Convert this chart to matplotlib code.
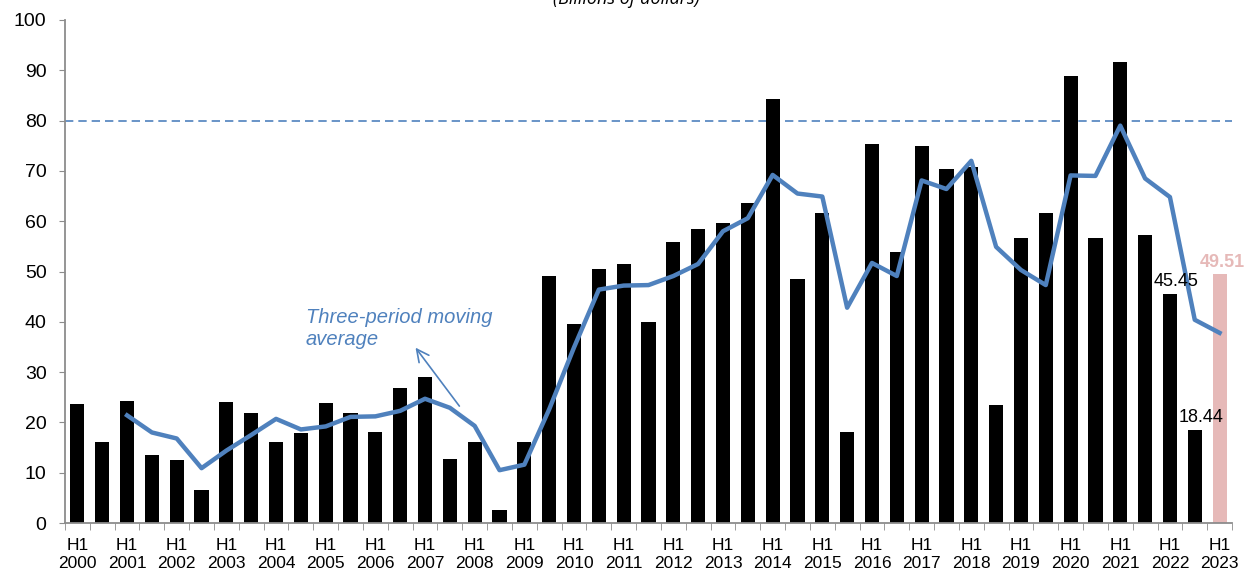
import numpy as np
import matplotlib
matplotlib.use("Agg")
import matplotlib.pyplot as plt

plt.rcParams['font.family'] = ['Liberation Sans', 'DejaVu Sans']

# half-year values, H1 2000 .. H1 2023 (billions of dollars)
years = list(range(2000, 2024))
flows = [23.7, 16.2, 24.3, 13.6, 12.5, 6.6, 24.1, 21.8, 16.1, 17.8,
         23.8, 21.8, 18.1, 26.9, 29.1, 12.8, 16.1, 2.6, 16.1, 49.2,
         39.5, 50.5, 51.5, 40.0, 55.9, 58.5, 59.6, 63.6, 84.3, 48.6,
         61.7, 18.0, 75.4, 53.8, 75.0, 70.4, 70.7, 23.5, 56.7, 61.7,
         88.8, 56.6, 91.7, 57.3, 45.45, 18.44, 49.51]

# three-period moving average (starts at H1 2001)
moving_avg = [21.4, 18.0, 16.8, 10.9, 14.4, 17.5, 20.7, 18.6, 19.2,
              21.1, 21.2, 22.3, 24.7, 22.9, 19.3, 10.5, 11.6, 22.6,
              34.9, 46.4, 47.2, 47.3, 49.1, 51.5, 58.0, 60.6, 69.2,
              65.5, 64.9, 42.8, 51.7, 49.1, 68.1, 66.4, 72.0, 54.9,
              50.3, 47.3, 69.1, 69.0, 79.0, 68.5, 64.8, 40.4, 37.8]

labelled = {44: "45.45", 45: "18.44"}
blue = "#4F81BD"
pink = "#E6B9B8"
grey = "#8C8C8C"

n = len(flows)
x = np.arange(n)
colors = ["black"] * (n - 1) + [pink]

fig = plt.figure(figsize=(12.51, 5.78), dpi=100)
ax = fig.add_axes([65 / 1251, 55 / 578, (1232 - 65) / 1251, (523 - 20) / 578])

ax.bar(x, flows, width=0.57, color=colors, zorder=2)
ax.plot(x[2:], moving_avg, color=blue, lw=3.2, zorder=3, solid_joinstyle='round')
ax.axhline(80, color=blue, lw=1.2, ls=(0, (5, 3)), zorder=1)

for i, txt in labelled.items():
    ax.text(x[i] + 0.25, flows[i] + 0.8, txt, ha='center', va='bottom',
            fontsize=13, color='black', zorder=5)
ax.text(x[-1] + 0.1, flows[-1] + 0.6, "49.51", ha='center', va='bottom',
        fontsize=13, color=pink, fontweight='bold', zorder=5)

ax.text(9.2, 35.4, "Three-period moving\naverage", color=blue, fontsize=14.5,
        style='italic', ha='left', va='baseline', linespacing=1.2)
ax.annotate("", xy=(13.55, 35.3), xytext=(15.45, 22.8),
            arrowprops=dict(arrowstyle='->', color=blue, lw=1.2,
                            mutation_scale=22))

ax.set_xlim(-0.5, n - 0.5)
ax.set_ylim(0, 100)
ax.set_yticks(range(0, 101, 10))
ax.tick_params(axis='y', labelsize=14, length=4.3, color=grey, pad=9)

ax.set_xticks(x[::2])
ax.set_xticklabels([f"H1\n{y}" for y in years], fontsize=12.5, linespacing=1.3)
ax.set_xticks(np.arange(-0.5, n, 1), minor=True)
ax.tick_params(axis='x', which='major', length=0, pad=10.5)
ax.tick_params(axis='x', which='minor', length=5, color=grey)

for side in ['top', 'right']:
    ax.spines[side].set_visible(False)
for side in ['left', 'bottom']:
    ax.spines[side].set_color(grey)
    ax.spines[side].set_linewidth(1.3)

fig.text(0.501, 0.993, "(Billions of dollars)", ha='center', va='baseline',
         fontsize=13, style='italic', family='Open Sans')

fig.savefig("out.png", dpi=100)
